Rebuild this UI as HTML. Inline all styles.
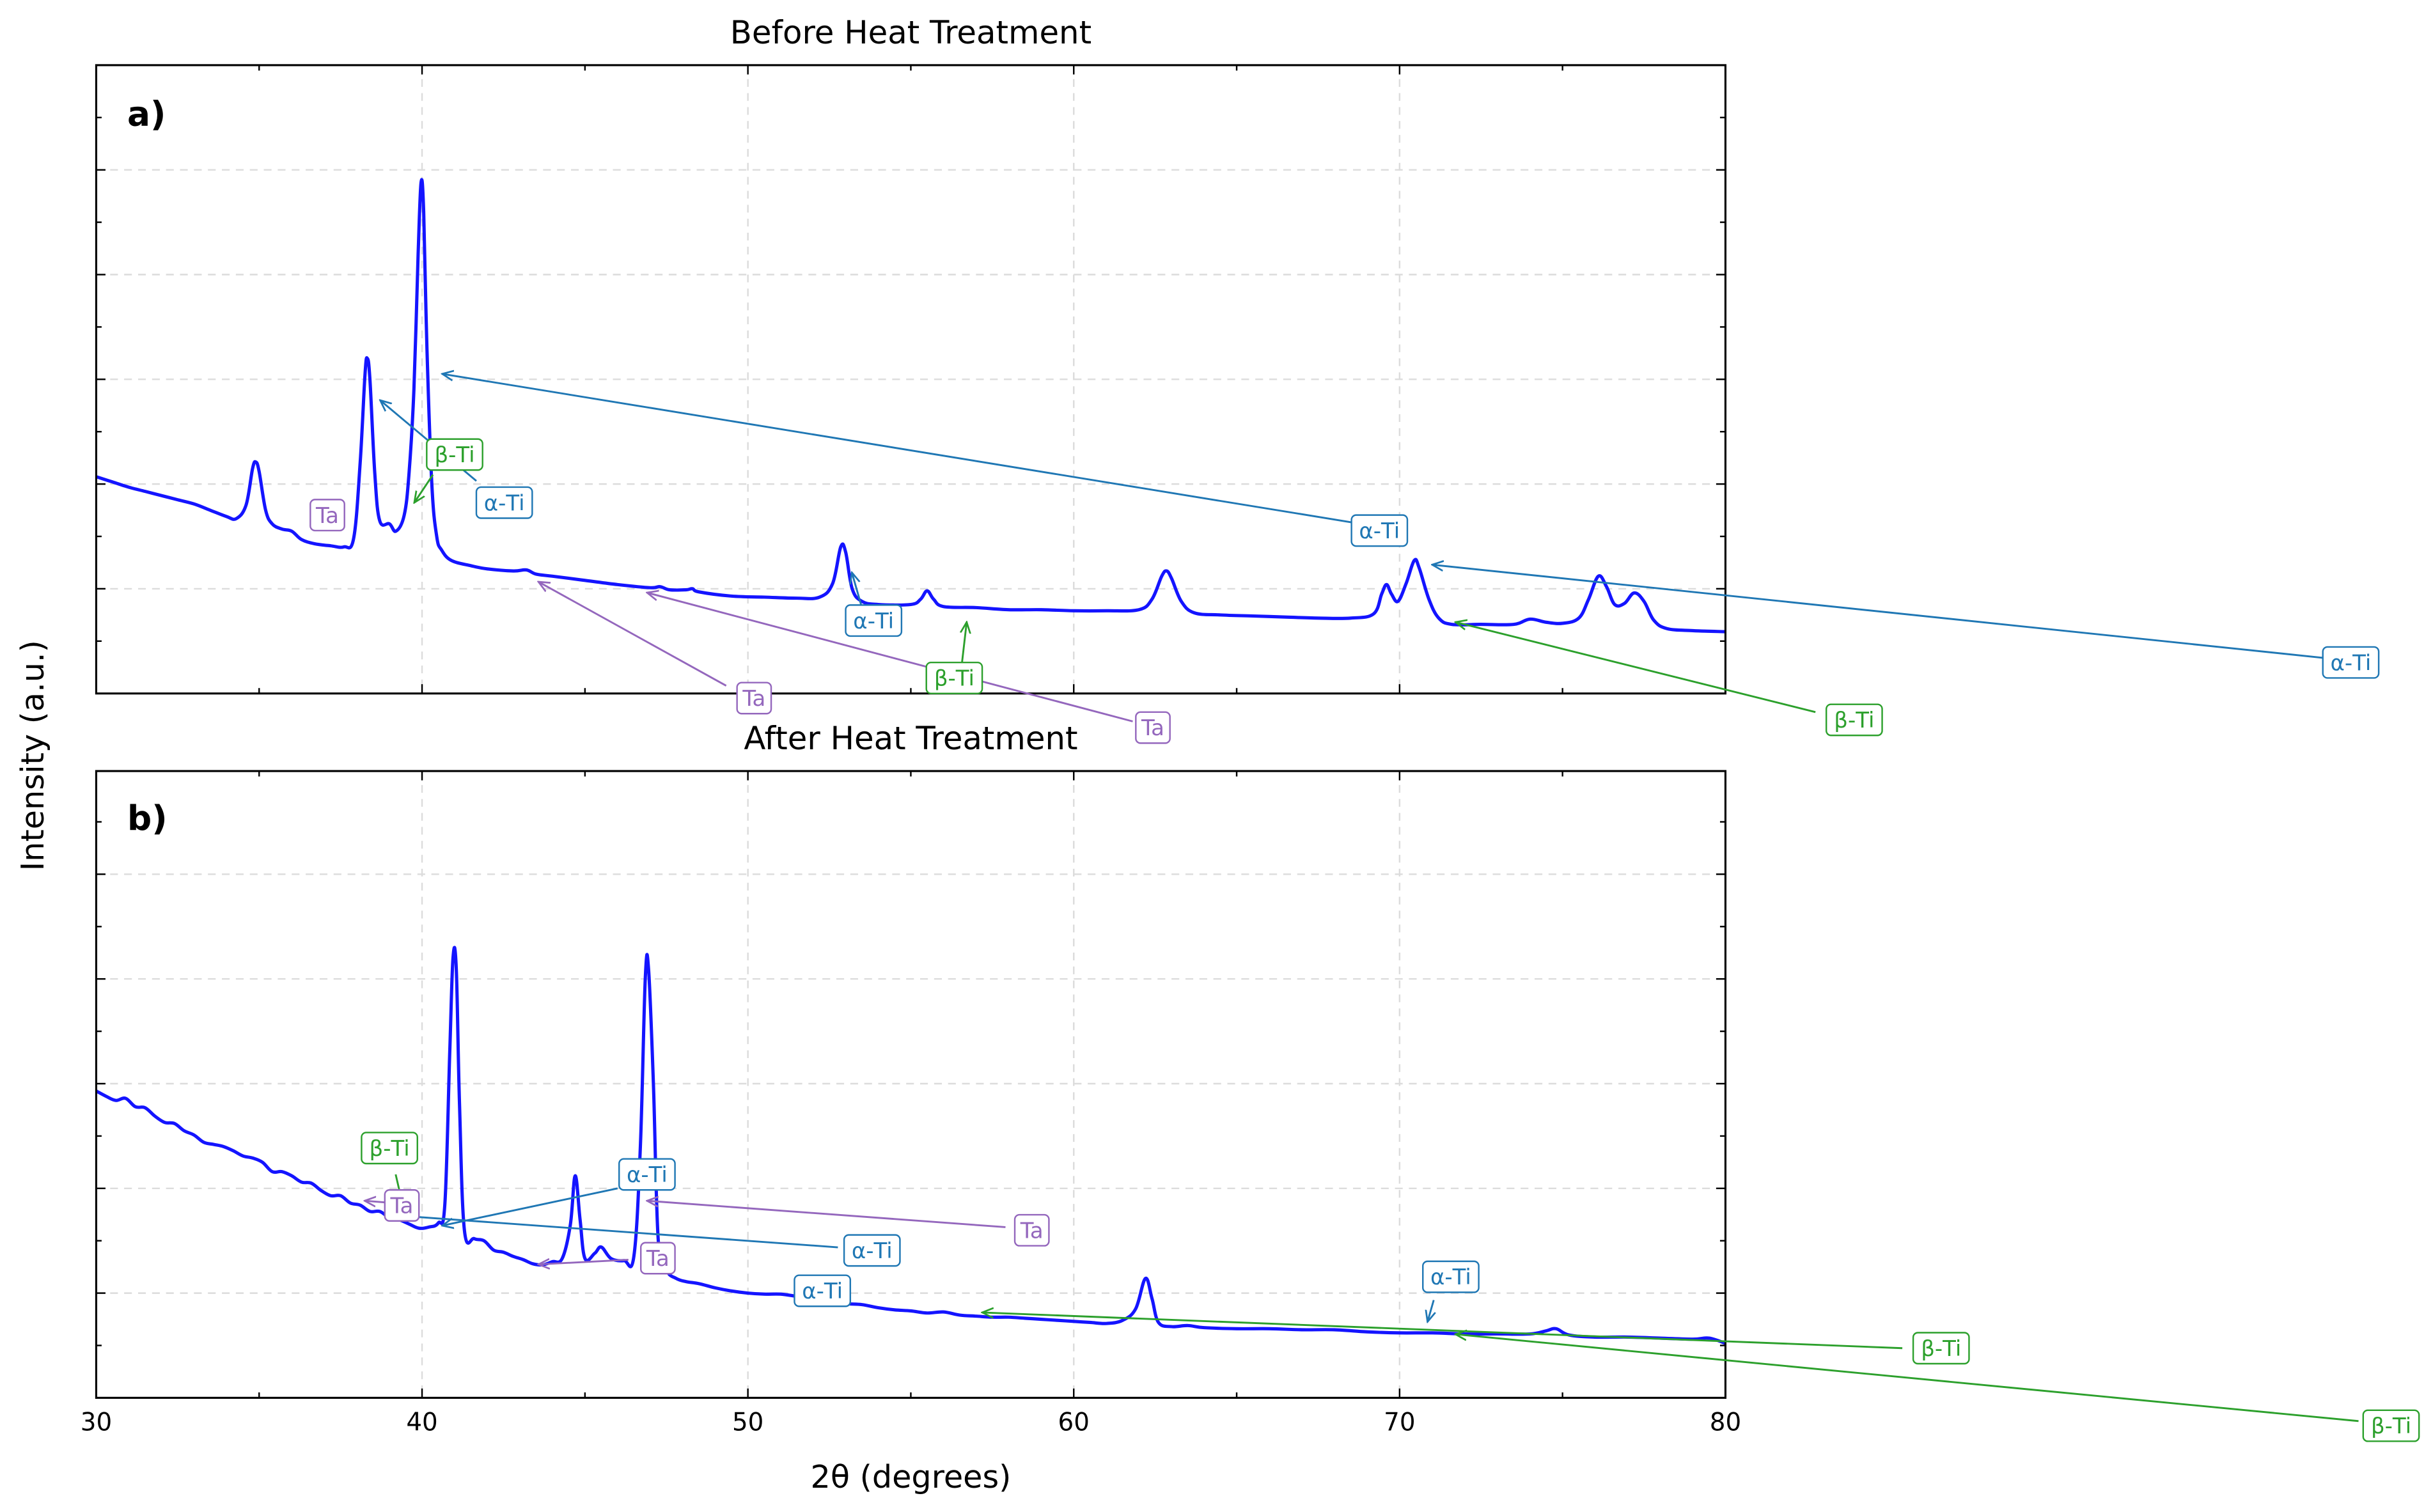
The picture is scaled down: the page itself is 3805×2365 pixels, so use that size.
<!DOCTYPE html>
<html><head><meta charset="utf-8">
<style>
html,body{margin:0;padding:0;background:#fff;}
svg{display:block;font-family:"DejaVu Sans","Liberation Sans",sans-serif;}
</style></head>
<body>
<svg id="chart" width="3805" height="2365" viewBox="0 0 1568 974.6" preserveAspectRatio="none" xmlns="http://www.w3.org/2000/svg">
<defs>
<marker id="ab" viewBox="0 0 10 10" refX="9" refY="5" markerWidth="8" markerHeight="8" orient="auto-start-reverse" markerUnits="userSpaceOnUse"><path d="M0,1 L9,5 L0,9" fill="none" stroke="#1f77b4" stroke-width="1.4"/></marker>
<marker id="ag" viewBox="0 0 10 10" refX="9" refY="5" markerWidth="8" markerHeight="8" orient="auto-start-reverse" markerUnits="userSpaceOnUse"><path d="M0,1 L9,5 L0,9" fill="none" stroke="#2ca02c" stroke-width="1.4"/></marker>
<marker id="ap" viewBox="0 0 10 10" refX="9" refY="5" markerWidth="8" markerHeight="8" orient="auto-start-reverse" markerUnits="userSpaceOnUse"><path d="M0,1 L9,5 L0,9" fill="none" stroke="#9467bd" stroke-width="1.4"/></marker>
</defs>
<g id="layer"></g>
<text x="587" y="28" font-size="20.5" text-anchor="middle">Before Heat Treatment</text>
<text x="587" y="483" font-size="20.5" text-anchor="middle">After Heat Treatment</text>
<text x="82" y="81" font-size="22" font-weight="bold">a)</text>
<text x="82" y="535" font-size="22" font-weight="bold">b)</text>
<text x="587" y="959" font-size="20.3" text-anchor="middle">2θ (degrees)</text>
<text x="28" y="487" font-size="20.3" text-anchor="middle" transform="rotate(-90 28 487)">Intensity (a.u.)</text>
</svg>
<script>
const xTicks=[30,40,50,60,70,80];
const aX=[30,30.5,31,31.5,32,32.5,33,33.5,34,34.3,34.6,34.8,34.9,35.0,35.2,35.4,35.7,36.0,36.3,36.7,37.2,37.6,37.9,38.1,38.25,38.32,38.4,38.55,38.7,39.0,39.2,39.45,39.6,39.75,39.88,39.97,40.05,40.15,40.3,40.45,40.6,40.9,41.5,42,42.8,43.2,43.5,44,45,46,47,47.3,47.6,48.1,48.3,48.5,49.5,50.5,51.5,52.2,52.6,52.85,53.0,53.2,53.5,54,55,55.3,55.5,55.7,56,57,58,59,60,61,62,62.4,62.7,62.85,63.0,63.3,63.7,64.5,65.5,66.5,67.5,68.5,69.2,69.45,69.6,69.75,69.95,70.2,70.45,70.6,70.9,71.2,71.6,72.5,73.5,74,74.5,75,75.5,75.8,76.1,76.35,76.6,76.9,77.2,77.5,77.8,78.2,79,80];
const aY=[2.07,2.02,1.97,1.93,1.89,1.85,1.81,1.75,1.69,1.67,1.80,2.15,2.21,2.12,1.75,1.62,1.57,1.55,1.47,1.43,1.41,1.40,1.48,2.2,3.05,3.2,3.0,2.1,1.65,1.62,1.55,1.7,2.1,2.9,4.2,4.88,4.6,3.3,2.0,1.5,1.37,1.27,1.22,1.19,1.17,1.18,1.14,1.12,1.08,1.04,1.01,1.02,0.99,0.99,1.0,0.97,0.93,0.92,0.91,0.92,1.05,1.40,1.35,1.0,0.88,0.85,0.85,0.9,0.98,0.9,0.83,0.82,0.80,0.80,0.79,0.79,0.80,0.9,1.12,1.17,1.1,0.88,0.77,0.75,0.74,0.73,0.72,0.72,0.76,0.95,1.04,0.95,0.88,1.05,1.27,1.2,0.9,0.72,0.66,0.66,0.66,0.71,0.68,0.67,0.72,0.9,1.12,1.02,0.85,0.86,0.96,0.88,0.7,0.62,0.6,0.59];
const bX=[30,30.3,30.6,30.9,31.2,31.5,31.8,32.1,32.4,32.7,33.0,33.3,33.6,33.9,34.2,34.5,34.8,35.1,35.4,35.7,36.0,36.3,36.6,36.9,37.2,37.5,37.8,38.1,38.4,38.7,39.0,39.3,39.6,39.9,40.2,40.5,40.7,40.85,40.95,41.05,41.15,41.3,41.6,41.9,42.2,42.5,42.8,43.1,43.4,43.7,44.0,44.3,44.55,44.7,44.85,45.0,45.3,45.5,45.8,46.2,46.5,46.7,46.85,46.95,47.1,47.25,47.5,47.8,48.1,48.5,49,49.5,50,50.5,51,51.5,52,52.5,53,53.5,54,54.5,55,55.5,56,56.5,57,57.5,58,58.5,59,59.5,60,60.5,61,61.5,61.9,62.2,62.4,62.6,63,63.5,64,65,66,67,68,69,70,71,72,73,74,74.5,74.8,75.2,76,77,78,79,79.5,80];
const bY=[2.93,2.88,2.84,2.86,2.78,2.77,2.69,2.63,2.62,2.55,2.51,2.44,2.42,2.40,2.36,2.31,2.29,2.25,2.16,2.16,2.12,2.06,2.05,1.98,1.93,1.93,1.86,1.84,1.78,1.78,1.72,1.70,1.66,1.62,1.63,1.67,1.85,3.3,4.2,4.1,2.8,1.6,1.52,1.50,1.41,1.39,1.35,1.32,1.28,1.27,1.30,1.33,1.65,2.12,1.7,1.33,1.38,1.44,1.33,1.31,1.35,2.4,4.0,4.1,3.0,1.5,1.22,1.14,1.11,1.09,1.05,1.02,1.00,0.99,0.99,0.97,0.96,0.93,0.90,0.89,0.86,0.84,0.83,0.81,0.82,0.79,0.78,0.77,0.77,0.76,0.75,0.74,0.73,0.72,0.71,0.74,0.85,1.14,0.95,0.72,0.68,0.69,0.67,0.66,0.66,0.65,0.65,0.63,0.62,0.62,0.61,0.61,0.61,0.64,0.66,0.60,0.58,0.58,0.57,0.56,0.57,0.52];
const yGrid=[1,2,3,4,5];

const NS='http://www.w3.org/2000/svg';
const layer=document.getElementById('layer');
const X0=62,X1=1112;
function xs(v){return X0+(v-30)*(X1-X0)/50;}
function mk(tag,attrs,parent){const e=document.createElementNS(NS,tag);for(const k in attrs)e.setAttribute(k,attrs[k]);(parent||layer).appendChild(e);return e;}
function smooth(pts){
  let d='M'+pts[0][0].toFixed(2)+','+pts[0][1].toFixed(2);
  for(let i=0;i<pts.length-1;i++){
    const p0=pts[Math.max(0,i-1)],p1=pts[i],p2=pts[i+1],p3=pts[Math.min(pts.length-1,i+2)];
    const t=0.18;
    const c1=[p1[0]+(p2[0]-p0[0])*t,p1[1]+(p2[1]-p0[1])*t];
    const c2=[p2[0]-(p3[0]-p1[0])*t,p2[1]-(p3[1]-p1[1])*t];
    d+='C'+c1[0].toFixed(2)+','+c1[1].toFixed(2)+' '+c2[0].toFixed(2)+','+c2[1].toFixed(2)+' '+p2[0].toFixed(2)+','+p2[1].toFixed(2);
  }
  return d;
}

function panel(top,bottom,xsArr,ysArr,name,showLabels){
  const ys=v=>bottom-v*67.5;
  const g=mk('g',{});
  
  
  for(const t of xTicks.slice(1,-1)){
    const l=mk('line',{x1:xs(t),x2:xs(t),y1:top,y2:bottom,stroke:'#dcdcdc','stroke-width':1,'stroke-dasharray':'5,4'},g);
    
    
  }
  for(const t of yGrid){
    const l=mk('line',{x1:X0,x2:X1,y1:ys(t),y2:ys(t),stroke:'#dcdcdc','stroke-width':1,'stroke-dasharray':'5,4'},g);
    
    
  }
  const pts=xsArr.map((x,i)=>[xs(x),ys(ysArr[i])]);
  const p=mk('path',{d:smooth(pts),fill:'none',stroke:'#1414ff','stroke-width':2.1,'stroke-linejoin':'round'},g);
  
  
  const tg=mk('g',{stroke:'#000','stroke-width':1},g);
  
  
  for(let v=30;v<=80;v+=5){
    const len=(v%10===0)?6:3.5;
    mk('line',{x1:xs(v),x2:xs(v),y1:bottom,y2:bottom-len},tg);
    mk('line',{x1:xs(v),x2:xs(v),y1:top,y2:top+len},tg);
  }
  for(let v=0.5;v*67.5<bottom-top;v+=0.5){
    const len=(Math.abs(v-Math.round(v))<0.01)?6:3.5;
    mk('line',{x1:X0,x2:X0+len,y1:ys(v),y2:ys(v)},tg);
    mk('line',{x1:X1,x2:X1-len,y1:ys(v),y2:ys(v)},tg);
  }
  const fr=mk('rect',{x:X0,y:top,width:X1-X0,height:bottom-top,fill:'none',stroke:'#000','stroke-width':1.3},g);
  
  
  if(showLabels){
    for(const t of xTicks){
      const tx=mk('text',{x:xs(t),y:bottom+21,'font-size':16,'text-anchor':'middle'},g);
      tx.textContent=t;
      
      
    }
  }
}
panel(42,447,aX,aY,'before',false);
panel(497,901,bX,bY,'after',true);

const COL={a:'#1f77b4',b:'#2ca02c',t:'#9467bd'};
const MK={a:'ab',b:'ag',t:'ap'};
function arrow(x1,y1,x2,y2,k,head){
  const l=mk('line',{x1:x1,y1:y1,x2:x2,y2:y2,stroke:COL[k],'stroke-width':1.2});
  if(head!==false)l.setAttribute('marker-end','url(#'+MK[k]+')');
  
  
}
function box(cx,cy,k,txt){
  const w=txt==='Ta'?22:36;
  const r=mk('rect',{x:cx-w/2,y:cy-10,width:w,height:20,rx:3,fill:'#fff',stroke:COL[k],'stroke-width':1});
  
  
  const t=mk('text',{x:cx,y:cy+5,'font-size':14,'text-anchor':'middle',fill:COL[k]});
  t.textContent=txt;
  
  
}
arrow(307,310,245,258,'a');
arrow(279,306,267,324,'b');
arrow(217,333,222,336,'t',false);
arrow(873,337,285,241,'a');
arrow(555,390,549,369,'a');
arrow(620,427,623,401,'b');
arrow(468,442,347,375,'t');
arrow(730,465,417,382,'t');
arrow(1497,424,923,364,'a');
arrow(1170,459,938,401,'b');
box(293,293,'b','β-Ti');box(325,324,'a','α-Ti');box(211,332,'t','Ta');
box(889,342,'a','α-Ti');box(563,400,'a','α-Ti');box(615,437,'b','β-Ti');
box(486,450,'t','Ta');box(743,469,'t','Ta');box(1515,427,'a','α-Ti');box(1195,464,'b','β-Ti');
arrow(255,757,258,770,'b',false);
arrow(248,775,235,774,'t');
arrow(398,766,285,790,'a');
arrow(540,804,263,784,'a',false);
arrow(648,791,417,774,'t');
arrow(405,812,347,815,'t');
arrow(924,838,920,852,'a');
arrow(1226,869,633,846,'b');
arrow(1520,916,938,860,'b');
box(251,740,'b','β-Ti');box(259,777,'t','Ta');box(417,757,'a','α-Ti');
box(562,806,'a','α-Ti');box(665,793,'t','Ta');box(424,811,'t','Ta');
box(530,832,'a','α-Ti');box(935,823,'a','α-Ti');box(1251,869,'b','β-Ti');box(1541,919,'b','β-Ti');
</script>
</body></html>
